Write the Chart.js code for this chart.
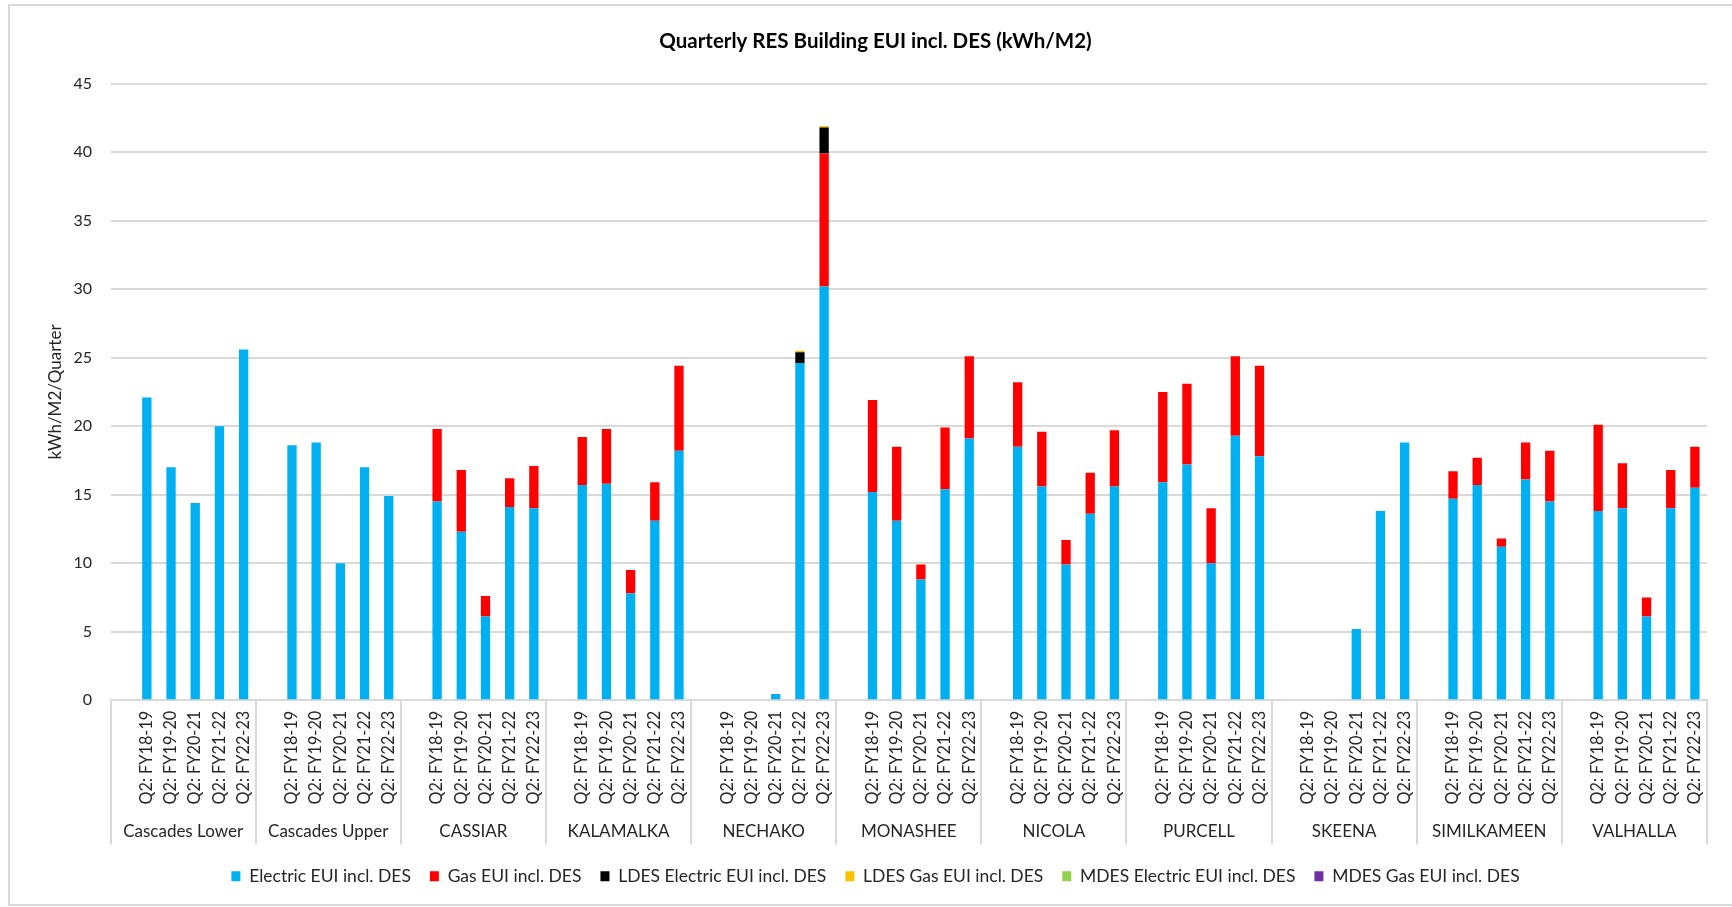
<!DOCTYPE html>
<html lang="en">
<head>
  <meta charset="UTF-8">
  <title>Quarterly RES Building EUI incl. DES</title>
  <style>
    html, body {
      margin: 0;
      padding: 0;
      background: #fff;
    }

    .wrap {
      position: relative;
      width: 1732px;
      height: 907px;
    }

    .frame {
      position: absolute;
      left: 8px;
      top: 4px;
      width: 1740px;
      height: 898px;
      border: 2px solid #d9d9d9;
      pointer-events: none;
    }
  </style>
</head>
<body>
  <div class="wrap">
    <canvas id="chart"></canvas>
    <div class="frame"></div>
  </div>

  <script src="https://cdn.jsdelivr.net/npm/chart.js"></script>
  <script>
    // buildings and quarters (every building gets one empty slot in front)
    const buildings = ['Cascades Lower', 'Cascades Upper', 'CASSIAR', 'KALAMALKA', 'NECHAKO',
      'MONASHEE', 'NICOLA', 'PURCELL', 'SKEENA', 'SIMILKAMEEN', 'VALHALLA'];
    const quarters = ['Q2: FY18-19', 'Q2: FY19-20', 'Q2: FY20-21', 'Q2: FY21-22', 'Q2: FY22-23'];

    // values per building, 5 quarters each
    const electric = [
      22.1, 17.0, 14.4, 20.0, 25.6,
      18.6, 18.8, 10.0, 17.0, 14.9,
      14.5, 12.3, 6.1, 14.1, 14.0,
      15.7, 15.8, 7.8, 13.1, 18.2,
      0, 0, 0.45, 24.6, 30.2,
      15.2, 13.1, 8.8, 15.4, 19.1,
      18.5, 15.6, 9.9, 13.6, 15.6,
      15.9, 17.2, 10.0, 19.3, 17.8,
      0, 0, 5.2, 13.8, 18.8,
      14.7, 15.7, 11.2, 16.1, 14.5,
      13.8, 14.0, 6.1, 14.0, 15.5
    ];
    const gas = [
      0, 0, 0, 0, 0,
      0, 0, 0, 0, 0,
      5.3, 4.5, 1.5, 2.1, 3.1,
      3.5, 4.0, 1.7, 2.8, 6.2,
      0, 0, 0, 0, 9.7,
      6.7, 5.4, 1.1, 4.5, 6.0,
      4.7, 4.0, 1.8, 3.0, 4.1,
      6.6, 5.9, 4.0, 5.8, 6.6,
      0, 0, 0, 0, 0,
      2.0, 2.0, 0.6, 2.7, 3.7,
      6.3, 3.3, 1.4, 2.8, 3.0
    ];
    const ldesElectric = [
      0, 0, 0, 0, 0,
      0, 0, 0, 0, 0,
      0, 0, 0, 0, 0,
      0, 0, 0, 0, 0,
      0, 0, 0, 0.8, 1.9,
      0, 0, 0, 0, 0,
      0, 0, 0, 0, 0,
      0, 0, 0, 0, 0,
      0, 0, 0, 0, 0,
      0, 0, 0, 0, 0,
      0, 0, 0, 0, 0
    ];
    const ldesGas = [
      0, 0, 0, 0, 0,
      0, 0, 0, 0, 0,
      0, 0, 0, 0, 0,
      0, 0, 0, 0, 0,
      0, 0, 0, 0.1, 0.1,
      0, 0, 0, 0, 0,
      0, 0, 0, 0, 0,
      0, 0, 0, 0, 0,
      0, 0, 0, 0, 0,
      0, 0, 0, 0, 0,
      0, 0, 0, 0, 0
    ];
    const mdesElectric = new Array(55).fill(0);
    const mdesGas = new Array(55).fill(0);

    const seriesNames = ['Electric EUI incl. DES', 'Gas EUI incl. DES', 'LDES Electric EUI incl. DES',
      'LDES Gas EUI incl. DES', 'MDES Electric EUI incl. DES', 'MDES Gas EUI incl. DES'];
    const seriesColors = ['#00b0f0', '#ff0000', '#000000', '#ffc000', '#92d050', '#7030a0'];
    const yTicks = { min: 0, max: 45, step: 5 };

    // labels with a blank slot before every building
    const labels = [];
    buildings.forEach(() => {
      labels.push('');
      quarters.forEach(q => labels.push(q));
    });

    function spread(values) {
      const out = [];
      buildings.forEach((b, i) => {
        out.push(null);
        for (let k = 0; k < quarters.length; k++) {
          const v = values[i * quarters.length + k];
          out.push(v === 0 ? null : v);
        }
      });
      return out;
    }

    const allSeries = [electric, gas, ldesElectric, ldesGas, mdesElectric, mdesGas];
    const datasets = allSeries.map((vals, i) => ({
      label: seriesNames[i],
      data: spread(vals),
      backgroundColor: seriesColors[i],
      borderWidth: 0,
      barPercentage: 0.385,
      categoryPercentage: 1
    }));

    const fontFamily = 'Lato, "Open Sans", sans-serif';
    const textColor = '#262626';
    const lineColor = '#d9d9d9';
    const groupSize = quarters.length + 1;

    // vertical separators between the building groups, below the axis
    const groupDividers = {
      id: 'groupDividers',
      afterDraw(chart) {
        const x = chart.scales.x;
        const x2 = chart.scales.x2;
        const ctx = chart.ctx;
        ctx.save();
        ctx.strokeStyle = lineColor;
        ctx.lineWidth = 2;
        for (let g = 0; g <= buildings.length; g++) {
          const px = Math.round(x.getPixelForValue(g * groupSize - 0.5));
          ctx.beginPath();
          ctx.moveTo(px, x.top);
          ctx.lineTo(px, x2.bottom - 4);
          ctx.stroke();
        }
        ctx.restore();
      }
    };

    const canvas = document.getElementById('chart');
    canvas.width = 1732;
    canvas.height = 907;

    new Chart(canvas.getContext('2d'), {
      type: 'bar',
      data: { labels: labels, datasets: datasets },
      plugins: [groupDividers],
      options: {
        responsive: false,
        animation: false,
        layout: { padding: { left: 44, right: 25, top: 0, bottom: 12 } },
        plugins: {
          title: {
            display: true,
            text: 'Quarterly RES Building EUI incl. DES (kWh/M2)',
            color: '#000',
            font: { family: fontFamily, size: 20.5, weight: 'bold' },
            padding: { top: 29, bottom: 30 }
          },
          legend: {
            position: 'bottom',
            labels: {
              color: textColor,
              font: { family: fontFamily, size: 17.5 },
              boxWidth: 9,
              boxHeight: 10,
              padding: 19
            }
          },
          tooltip: { enabled: false }
        },
        scales: {
          x: {
            stacked: true,
            grid: { display: false },
            border: { display: true, color: lineColor, width: 2 },
            ticks: {
              autoSkip: false,
              minRotation: 90,
              maxRotation: 90,
              padding: 2.5,
              color: textColor,
              font: { family: fontFamily, size: 16.3 }
            }
          },
          x2: {
            type: 'category',
            labels: buildings,
            position: 'bottom',
            offset: true,
            grid: { display: false },
            border: { display: false },
            ticks: {
              maxRotation: 0,
              padding: 6.5,
              color: textColor,
              font: { family: fontFamily, size: 17 }
            }
          },
          y: {
            stacked: true,
            min: yTicks.min,
            max: yTicks.max,
            grid: { color: lineColor, lineWidth: 2, drawTicks: false },
            border: { display: false },
            ticks: {
              stepSize: yTicks.step,
              padding: 18.5,
              color: textColor,
              font: { family: fontFamily, size: 16 }
            },
            title: {
              display: true,
              text: 'kWh/M2/Quarter',
              color: textColor,
              font: { family: fontFamily, size: 17 },
              padding: { top: 1, bottom: -10.4 }
            }
          }
        }
      }
    });
  </script>
</body>
</html>
